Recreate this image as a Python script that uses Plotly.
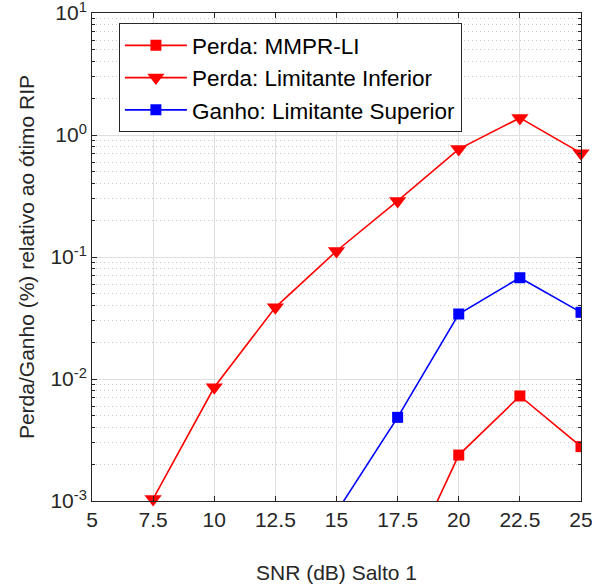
import plotly.graph_objects as go

snr = [7.5, 10, 12.5, 15, 17.5, 20, 22.5, 25]
perda_li = [0.00104, 0.00855, 0.0387, 0.112, 0.288, 0.767, 1.38, 0.71]
snr_ganho = [15, 17.5, 20, 22.5, 25]
ganho_ls = [0.00081, 0.00485, 0.0341, 0.0676, 0.0352]
snr_mmpr = [17.5, 20, 22.5, 25]
perda_mmpr = [0.0002, 0.00238, 0.00726, 0.00279]

xticks = [5, 7.5, 10, 12.5, 15, 17.5, 20, 22.5, 25]
yticks = [1e-3, 1e-2, 1e-1, 1e0, 1e1]
ytext = ["10<sup>-3</sup>", "10<sup>-2</sup>", "10<sup>-1</sup>", "10<sup>0</sup>", "10<sup>1</sup>"]

font = "Liberation Sans, Arial, Helvetica, sans-serif"

fig = go.Figure()
fig.add_trace(go.Scatter(x=snr_mmpr, y=perda_mmpr, mode="lines+markers",
                         name="Perda: MMPR-LI",
                         line=dict(color="#ff0000", width=1.6),
                         marker=dict(symbol="square", size=11, color="#ff0000")))
fig.add_trace(go.Scatter(x=snr, y=perda_li, mode="lines+markers",
                         name="Perda: Limitante Inferior", cliponaxis=False,
                         line=dict(color="#ff0000", width=1.6),
                         marker=dict(symbol="triangle-down", size=15, color="#ff0000")))
fig.add_trace(go.Scatter(x=snr_ganho, y=ganho_ls, mode="lines+markers",
                         name="Ganho: Limitante Superior",
                         line=dict(color="#0000ff", width=1.6),
                         marker=dict(symbol="square", size=11, color="#0000ff")))

axis_common = dict(showline=True, linecolor="#262626", linewidth=1, mirror="ticks",
                   ticks="inside", tickcolor="#262626", ticklen=5,
                   gridcolor="#dfdfdf", gridwidth=1, zeroline=False, automargin=False,
                   ticklabeloverflow="allow",
                   tickfont=dict(family=font, size=21, color="#262626"))

fig.update_xaxes(range=[5, 25], tickvals=xticks, ticktext=[str(t) for t in xticks],
                 title=dict(text="SNR (dB) Salto 1", font=dict(family=font, size=21, color="#262626"),
                            standoff=35),
                 **axis_common)
fig.update_yaxes(type="log", range=[-3, 1], tickvals=yticks, ticktext=ytext,
                 title=dict(text="Perda/Ganho (%) relativo ao ótimo RIP",
                            font=dict(family=font, size=21, color="#262626"), standoff=10),
                 minor=dict(showgrid=True, griddash="1px,3px", gridcolor="#c8c8c8",
                            ticks="inside", ticklen=3, tickcolor="#262626",
                            dtick="D1"),
                 **axis_common)

fig.update_layout(
    width=592, height=586,
    margin=dict(l=92, r=11, t=13, b=85),
    plot_bgcolor="white", paper_bgcolor="white",
    font=dict(family=font, size=22, color="#000000"),
    legend=dict(x=0.055, y=0.979, xanchor="left", yanchor="top",
                bgcolor="white", bordercolor="#262626", borderwidth=1,
                font=dict(family=font, size=22.5, color="#000000"),
                itemwidth=62, tracegroupgap=0),
    showlegend=True,
)

fig.write_html("out.html")
